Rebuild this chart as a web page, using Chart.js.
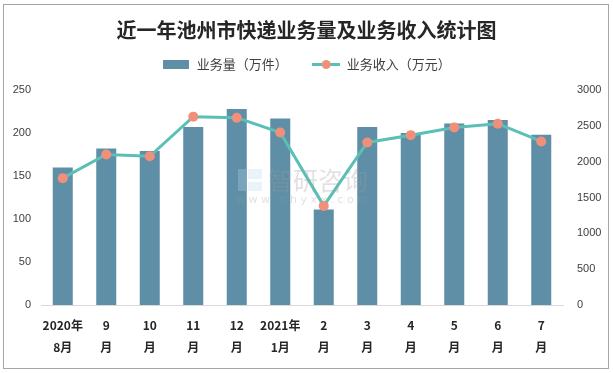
<!DOCTYPE html>
<html lang="zh-CN">
<head>
<meta charset="UTF-8">
<title>近一年池州市快递业务量及业务收入统计图</title>
<script src="https://cdn.jsdelivr.net/npm/chart.js"></script>
<style>
    body { margin: 0; background: #fff; }
    .wrap { position: relative; width: 613px; height: 373px; }
    .frame {
        position: absolute; left: 3px; top: 4px; width: 604px; height: 363px;
        border: 1px solid #a6a6a6; pointer-events: none;
    }
</style>
</head>
<body>
<div class="wrap">
    <canvas id="chart" width="613" height="373"></canvas>
    <div class="frame"></div>
</div>
<script>
// 月份
const months = [['2020年', '8月'], ['9', '月'], ['10', '月'], ['11', '月'], ['12', '月'], ['2021年', '1月'],
                ['2', '月'], ['3', '月'], ['4', '月'], ['5', '月'], ['6', '月'], ['7', '月']];
// 业务量（万件）
const volume = [160, 182, 179, 207, 228, 217, 111, 207, 200, 211, 215, 198];
// 业务收入（万元）
const revenue = [1770, 2100, 2075, 2628, 2614, 2407, 1383, 2268, 2370, 2476, 2530, 2282];

const barColor = '#5f8fa7';
const lineColor = '#5bbfb5';
const dotColor = '#f0907a';

// 图例小图标
function barIcon() {
    const c = document.createElement('canvas');
    c.width = 26; c.height = 9;
    const g = c.getContext('2d');
    g.fillStyle = barColor;
    g.fillRect(0, 0, 26, 9);
    return c;
}
function lineIcon() {
    const c = document.createElement('canvas');
    c.width = 28; c.height = 11;
    const g = c.getContext('2d');
    g.strokeStyle = lineColor;
    g.lineWidth = 3;
    g.beginPath(); g.moveTo(0, 5.5); g.lineTo(28, 5.5); g.stroke();
    g.fillStyle = dotColor;
    g.beginPath(); g.arc(14, 5.5, 4.5, 0, Math.PI * 2); g.fill();
    return c;
}
const icons = [barIcon(), lineIcon()];

// 水印
const watermark = {
    id: 'watermark',
    afterDatasetsDraw(chart) {
        const ctx = chart.ctx;
        ctx.save();
        ctx.globalAlpha = 0.3;
        ctx.fillStyle = '#b8d3ee';
        ctx.fillRect(238, 169, 8, 22);
        ctx.fillRect(248, 169, 14, 10);
        ctx.fillRect(248, 182, 14, 9);
        ctx.fillStyle = '#9a9a9a';
        ctx.font = '25px "Noto Sans CJK SC"';
        ctx.textBaseline = 'middle';
        ctx.fillText('智研咨询', 268, 180);
        ctx.font = '11px "DejaVu Sans"';
        ctx.fillText('w w w . c h y x x . c o m', 236, 200);
        ctx.restore();
    }
};

const tickFont = { family: '"Liberation Sans", Arial, sans-serif', size: 11 };

new Chart(document.getElementById('chart'), {
    data: {
        labels: months,
        datasets: [
            {
                type: 'bar',
                label: '业务量（万件）',
                data: volume,
                backgroundColor: barColor,
                yAxisID: 'y',
                order: 1,
                barPercentage: 0.46,
                categoryPercentage: 1
            },
            {
                type: 'line',
                label: '业务收入（万元）',
                data: revenue,
                borderColor: lineColor,
                borderWidth: 3,
                pointRadius: 5,
                pointBackgroundColor: dotColor,
                pointBorderWidth: 0,
                tension: 0,
                yAxisID: 'y1',
                order: 0
            }
        ]
    },
    options: {
        responsive: false,
        animation: false,
        layout: { padding: { left: 4, right: 4, top: 4, bottom: 0 } },
        plugins: {
            title: {
                display: true,
                text: '近一年池州市快递业务量及业务收入统计图',
                color: '#262626',
                font: { family: '"Noto Sans CJK SC"', size: 20, weight: 'bold', lineHeight: 1.0 },
                padding: { top: 16, bottom: 0 }
            },
            // 图例与绘图区之间的空白
            subtitle: {
                display: true,
                text: ' ',
                weight: 500,
                font: { size: 1, lineHeight: 1 },
                padding: { top: 4, bottom: 4 }
            },
            legend: {
                display: true,
                weight: 1000,
                labels: {
                    usePointStyle: true,
                    pointStyleWidth: 28,
                    boxHeight: 11,
                    color: '#404040',
                    font: { family: '"Noto Sans CJK SC"', size: 13 },
                    padding: 18,
                    sort: (a, b) => a.datasetIndex - b.datasetIndex,
                    generateLabels(chart) {
                        const items = Chart.defaults.plugins.legend.labels.generateLabels(chart);
                        items.forEach(it => {
                            it.pointStyle = icons[it.datasetIndex];
                            if (it.datasetIndex === 0) it.text += '　';
                        });
                        return items;
                    }
                }
            },
            tooltip: { enabled: false }
        },
        scales: {
            x: {
                grid: { display: false },
                border: { display: true, color: '#d9d9d9' },
                ticks: {
                    color: '#262626',
                    maxRotation: 0,
                    autoSkip: false,
                    padding: 2,
                    font: { family: '"Noto Sans CJK SC"', size: 12, weight: 'bold', lineHeight: 1.8 }
                },
                afterFit(s) { s.height = 68; }
            },
            y: {
                position: 'left',
                min: 0, max: 250,
                grid: { display: false },
                border: { display: false },
                ticks: { stepSize: 50, color: '#404040', padding: 2, font: tickFont },
                afterFit(s) { s.width = 37; }
            },
            y1: {
                position: 'right',
                min: 0, max: 3000,
                grid: { display: false },
                border: { display: false },
                ticks: { stepSize: 500, color: '#404040', padding: 6, font: tickFont, callback: v => String(v) },
                afterFit(s) { s.width = 46; }
            }
        }
    },
    plugins: [watermark]
});
</script>
</body>
</html>
